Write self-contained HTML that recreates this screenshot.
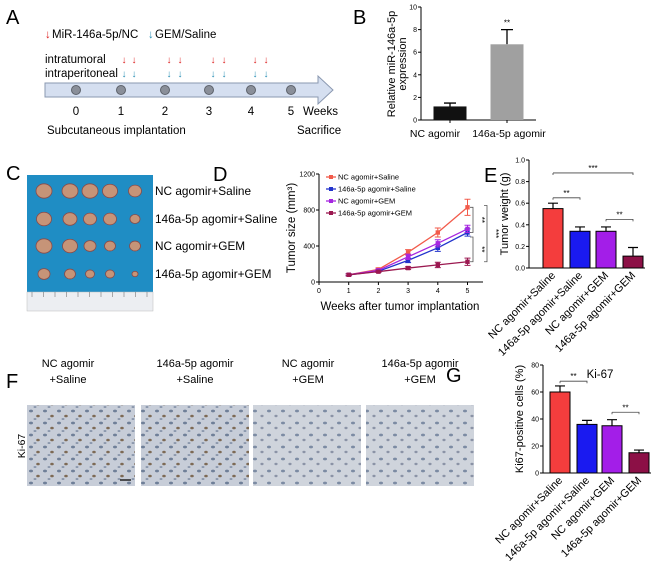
<!DOCTYPE html>
<html><head><meta charset="utf-8"><style>
html,body{margin:0;padding:0;background:#fff;}
svg{display:block;font-family:"Liberation Sans",Arial,sans-serif;}
</style></head><body>
<svg id="fig" width="656" height="563" viewBox="0 0 656 563" xmlns="http://www.w3.org/2000/svg">
<defs>
<pattern id="histo" width="14" height="12" patternUnits="userSpaceOnUse">
<rect width="14" height="12" fill="#c7cdd8"/>
<ellipse cx="3" cy="3" rx="2" ry="1.4" fill="#6f7f98"/>
<ellipse cx="10" cy="8" rx="1.8" ry="1.3" fill="#7d6a55"/>
<ellipse cx="7" cy="11" rx="1.5" ry="1" fill="#8a97ac"/>
</pattern>
<pattern id="histo2" width="14" height="12" patternUnits="userSpaceOnUse">
<rect width="14" height="12" fill="#cfd4dc"/>
<ellipse cx="3" cy="3" rx="2" ry="1.4" fill="#7c8ba3"/>
<ellipse cx="10" cy="8" rx="1.6" ry="1.2" fill="#8b93a6"/>
</pattern>
</defs>

<!-- Panel A -->
<g>
<text x="6" y="24" font-size="20">A</text>
<text x="45" y="38" font-size="11.5" fill="#d22">↓</text>
<text x="52" y="38" font-size="11.5">MiR-146a-5p/NC</text>
<text x="148" y="38" font-size="11.5" fill="#2a8fb5">↓</text>
<text x="155" y="38" font-size="11.5">GEM/Saline</text>
<text x="45" y="63" font-size="11.5">intratumoral</text>
<text x="45" y="77" font-size="11.5">intraperitoneal</text>
<g id="arrowsA"></g>
<polygon points="45,83 318,83 318,76 333,90 318,104 318,97 45,97" fill="#d5dff0" stroke="#8a98b0" stroke-width="1"/>
<g id="dotsA"></g>
<text x="303" y="115" font-size="11.5">Weeks</text>
<text x="47" y="134" font-size="11.5">Subcutaneous implantation</text>
<text x="297" y="134" font-size="11.5">Sacrifice</text>
</g>

<!-- Panel B -->
<g id="panelB">
<text x="353" y="24" font-size="20">B</text>
</g>

<!-- Panel C -->
<g>
<text x="6" y="180" font-size="20">C</text>
<rect x="27" y="175" width="126" height="117" fill="#1f8dc4"/>
<rect x="27" y="292" width="126" height="19" fill="#eceef2" stroke="#bbb" stroke-width="0.5"/>
<g id="tumors"></g>
<text x="155" y="195" font-size="11.8">NC agomir+Saline</text>
<text x="155" y="223" font-size="11.8">146a-5p agomir+Saline</text>
<text x="155" y="250" font-size="11.8">NC agomir+GEM</text>
<text x="155" y="278" font-size="11.8">146a-5p agomir+GEM</text>
</g>

<!-- Panel D -->
<g id="panelD">
<text x="213" y="181" font-size="20">D</text>
</g>

<!-- Panel E -->
<g id="panelE">
<text x="484" y="182" font-size="20">E</text>
</g>

<!-- Panel F -->
<g id="panelF">
<text x="6" y="388" font-size="20">F</text>
<text transform="translate(25,446) rotate(-90)" font-size="10.5" text-anchor="middle">Ki-67</text>
</g>

<!-- Panel G -->
<g id="panelG">
<text x="446" y="382" font-size="20">G</text>
<text x="600" y="378" font-size="11.5" text-anchor="middle">Ki-67</text>
</g>
</svg>

<script>
const NS="http://www.w3.org/2000/svg";
function mk(parent,tag,attrs,text){const e=document.createElementNS(NS,tag);for(const k in attrs)e.setAttribute(k,attrs[k]);if(text!==undefined)e.textContent=text;parent.appendChild(e);return e;}

// ---- Panel A timeline ----
const weekLabels=["0","1","2","3","4","5"];
const weekX=[76,121,165,209,251,291];
const dotsA=document.getElementById('dotsA');
weekLabels.forEach((w,i)=>{
  const c=mk(dotsA,'circle',{cx:weekX[i],cy:90,r:4.5,fill:'#8a8f99',stroke:'#5d626b','stroke-width':1});
  
  
  const t=mk(dotsA,'text',{x:weekX[i],y:115,'font-size':11.5,'text-anchor':'middle'},w);
  
  
});
const arrowsA=document.getElementById('arrowsA');
const doseX=[124,134,169,180,213,224,255,266];
doseX.forEach(x=>{
  const r=mk(arrowsA,'text',{x:x,y:63,'font-size':10,fill:'#d22','text-anchor':'middle'},'↓');
  
  
  const b=mk(arrowsA,'text',{x:x,y:77,'font-size':10,fill:'#2a8fb5','text-anchor':'middle'},'↓');
  
  
});

// ---- Panel B ----
const bCats=["NC agomir","146a-5p agomir"];
const bVals=[1.2,6.7];
const bErr=[0.3,1.3];
const bTicks=[0,2,4,6,8,10];
(function(){
  const g=document.getElementById('panelB');
  const x0=421,y0=120,yTop=7,ymax=10;
  const ys=v=>y0-(v/ymax)*(y0-yTop);
  const centers=[450,507],labelX=[435,509],bw=33,cols=["#111","#a0a0a0"];
  const ax=mk(g,'path',{d:`M${x0},${yTop}V${y0}H536`,stroke:'#000',fill:'none','stroke-width':1});
  
  bTicks.forEach(t=>{
    mk(g,'line',{x1:x0-3,x2:x0,y1:ys(t),y2:ys(t),stroke:'#000'});
    const l=mk(g,'text',{x:x0-4,y:ys(t)+2.5,'font-size':7,'text-anchor':'end'},String(t));
    
  });
  bVals.forEach((v,i)=>{
    const cx=centers[i];
    mk(g,'path',{d:`M${cx},${ys(v)}V${ys(v+bErr[i])}M${cx-6},${ys(v+bErr[i])}H${cx+6}`,stroke:'#000','stroke-width':1.3,fill:'none'});
    const r=mk(g,'rect',{x:cx-bw/2,y:ys(v),width:bw,height:y0-ys(v),fill:cols[i]});
    
    mk(g,'line',{x1:cx,x2:cx,y1:y0,y2:y0+3,stroke:'#000'});
    const l=mk(g,'text',{x:labelX[i],y:137,'font-size':10.5,'text-anchor':'middle'},bCats[i]);
    
  });
  const s=mk(g,'text',{x:centers[1],y:ys(bVals[1]+bErr[1])-4,'font-size':8,'text-anchor':'middle'},'**');
  
  const yl=mk(g,'text',{transform:'translate(395,64) rotate(-90)','font-size':11,'text-anchor':'middle'},'Relative miR-146a-5p');
  
  const yl2=mk(g,'text',{transform:'translate(406,64) rotate(-90)','font-size':11,'text-anchor':'middle'},'expression');
  
})();

// ---- Panel C tumors ----
const tumorSizes=[[8,8,8,7.5,6.5],[7.5,7,6.5,6.5,5],[8,7.5,6,5.5,5.5],[6,5.5,4.5,4.5,3]];
(function(){
  const g=document.getElementById('tumors');
  const xs=[44,70,90,110,135],ys=[191,219,246,274];
  tumorSizes.forEach((row,r)=>row.forEach((s,c)=>{
    const e=mk(g,'ellipse',{cx:xs[c],cy:ys[r],rx:s,ry:s*0.9,fill:'#c69478',stroke:'#8a4a48','stroke-width':0.8});
    
  }));
  for(let i=0;i<=10;i++){mk(g,'line',{x1:32+i*11.5,x2:32+i*11.5,y1:292,y2:297,stroke:'#777','stroke-width':0.6});}
})();

// ---- Panel D line chart ----
const dWeeks=[1,2,3,4,5];
const dSeriesNames=["NC agomir+Saline","146a-5p agomir+Saline","NC agomir+GEM","146a-5p agomir+GEM"];
const dNcSaline=[80,140,330,550,830];
const dMirSaline=[80,120,240,380,550];
const dNcGem=[80,130,280,430,590];
const dMirGem=[80,115,155,190,225];
const dErrNcSaline=[10,15,30,50,90];
const dErrMirSaline=[10,12,25,40,40];
const dErrNcGem=[10,12,30,40,40];
const dErrMirGem=[10,10,15,30,40];
const dYTicks=[0,400,800,1200];
const dXTicks=[0,1,2,3,4,5];
(function(){
  const g=document.getElementById('panelD');
  const x0=319,y0=282,yTop=174;
  const xs=w=>x0+w*29.7, ys=v=>y0-v/1200*(y0-yTop);
  const ax=mk(g,'path',{d:`M${x0},${yTop}V${y0}H483`,stroke:'#000',fill:'none'});
  
  dYTicks.forEach(t=>{mk(g,'line',{x1:x0-3,x2:x0,y1:ys(t),y2:ys(t),stroke:'#000'});
    const l=mk(g,'text',{x:x0-4,y:ys(t)+2.5,'font-size':7,'text-anchor':'end'},String(t));
    });
  dXTicks.forEach(t=>{mk(g,'line',{x1:xs(t),x2:xs(t),y1:y0,y2:y0+3,stroke:'#000'});
    const l=mk(g,'text',{x:xs(t),y:y0+11,'font-size':7,'text-anchor':'middle'},String(t));
    });
  const xt=mk(g,'text',{x:400,y:310,'font-size':11.5,'text-anchor':'middle'},'Weeks after tumor implantation');
  
  const yt=mk(g,'text',{transform:'translate(295,228) rotate(-90)','font-size':11.5,'text-anchor':'middle'},'Tumor size (mm³)');
  
  const series=[dNcSaline,dMirSaline,dNcGem,dMirGem];
  const errs=[dErrNcSaline,dErrMirSaline,dErrNcGem,dErrMirGem];
  const cols=["#f25a4a","#2233cc","#a626e0","#9b1850"];
  series.forEach((s,k)=>{
    const pts=s.map((v,i)=>xs(dWeeks[i])+','+ys(v)).join(' ');
    const pl=mk(g,'polyline',{points:pts,fill:'none',stroke:cols[k],'stroke-width':1.3});
    
    s.forEach((v,i)=>{const x=xs(dWeeks[i]);const e=errs[k][i];
      mk(g,'path',{d:`M${x},${ys(v-e)}V${ys(v+e)}M${x-3},${ys(v-e)}H${x+3}M${x-3},${ys(v+e)}H${x+3}`,stroke:cols[k],fill:'none'});
      const p=mk(g,'rect',{x:x-2.2,y:ys(v)-2.2,width:4.4,height:4.4,fill:cols[k]});
      });
    const ly=177+k*12;
    mk(g,'line',{x1:326,x2:336,y1:ly,y2:ly,stroke:cols[k],'stroke-width':1.3});
    mk(g,'rect',{x:329,y:ly-2,width:4,height:4,fill:cols[k]});
    const lt=mk(g,'text',{x:338,y:ly+2.5,'font-size':7.5},dSeriesNames[k]);
    
  });
  const br=(x,a,b,lbl)=>{mk(g,'path',{d:`M${x-3},${ys(a)}H${x}V${ys(b)}H${x-3}`,stroke:'#555',fill:'none','stroke-width':0.8});
    const t=mk(g,'text',{transform:`translate(${x+6},${(ys(a)+ys(b))/2}) rotate(90)`,'font-size':8,'text-anchor':'middle'},lbl);
    };
  br(473,dNcSaline[4],dMirSaline[4],'**');
  br(473,dMirSaline[4]-50,dMirGem[4],'**');
  br(487,dNcSaline[4]+20,dMirGem[4],'***');
})();

// ---- Bar chart helper for E and G ----
const groupNames=["NC agomir+Saline","146a-5p agomir+Saline","NC agomir+GEM","146a-5p agomir+GEM"];
const barColors=["#f43d3d","#1a1af0","#a31ee8","#8c1046"];
const eVals=[0.55,0.34,0.34,0.11];
const eErr=[0.05,0.04,0.04,0.08];
const eTicks=[0,0.2,0.4,0.6,0.8,1.0];
const gVals=[60,36,35,15];
const gErr=[4.5,3,4.5,2];
const gTicks=[0,20,40,60,80];
function barChart(g,o,vals,errs,ticks,pref){
  const ys=v=>o.y0-v/o.max*(o.y0-o.yTop);
  const ax=mk(g,'path',{d:`M${o.x0},${o.yTop}V${o.y0}H${o.xEnd}`,stroke:'#000',fill:'none'});
  
  ticks.forEach(t=>{mk(g,'line',{x1:o.x0-3,x2:o.x0,y1:ys(t),y2:ys(t),stroke:'#000'});
    const l=mk(g,'text',{x:o.x0-4,y:ys(t)+2.5,'font-size':7,'text-anchor':'end'},o.fmt(t));
    });
  vals.forEach((v,i)=>{const cx=o.cx[i];
    mk(g,'path',{d:`M${cx},${ys(v)}V${ys(v+errs[i])}M${cx-5},${ys(v+errs[i])}H${cx+5}`,stroke:'#000','stroke-width':1.2,fill:'none'});
    const r=mk(g,'rect',{x:cx-o.bw/2,y:ys(v),width:o.bw,height:o.y0-ys(v),fill:barColors[i],stroke:'#000','stroke-width':1});
    
    const l=mk(g,'text',{transform:`translate(${cx+3},${o.y0+8}) rotate(-45)`,'font-size':11,'text-anchor':'end'},groupNames[i]);
    });
  const yt=mk(g,'text',{transform:`translate(${o.ytx},${(o.y0+o.yTop)/2}) rotate(-90)`,'font-size':11,'text-anchor':'middle'},o.ytitle);
  
  (o.sig||[]).forEach(s=>{const y=ys(s[2]);
    mk(g,'path',{d:`M${o.cx[s[0]]},${y}H${o.cx[s[1]]}V${y+2}M${o.cx[s[0]]},${y}V${y+2}`,stroke:'#444',fill:'none','stroke-width':0.8});
    const t=mk(g,'text',{x:(o.cx[s[0]]+o.cx[s[1]])/2,y:y-2,'font-size':8,'text-anchor':'middle'},s[3]);
    });
}
barChart(document.getElementById('panelE'),{x0:529,y0:268,yTop:160,max:1.0,xEnd:645,cx:[553,580,606,633],bw:20,
  fmt:t=>t.toFixed(1),ytitle:'Tumor weight (g)',ytx:508,sig:[[0,3,0.88,'***'],[0,1,0.65,'**'],[2,3,0.45,'**']]},eVals,eErr,eTicks,'e');
barChart(document.getElementById('panelG'),{x0:543,y0:473,yTop:365,max:80,xEnd:651,cx:[560,587,612,639],bw:20,
  fmt:t=>String(t),ytitle:'Ki67-positive cells (%)',ytx:523,sig:[[0,1,68,'**'],[2,3,45,'**']]},gVals,gErr,gTicks,'g');

// ---- Panel F histology ----
(function(){
  const g=document.getElementById('panelF');
  const tops=["NC agomir","146a-5p agomir","NC agomir","146a-5p agomir"];
  const bots=["+Saline","+Saline","+GEM","+GEM"];
  const xs=[27,141,253,366],cx=[68,195,308,420];
  xs.forEach((x,i)=>{
    const t1=mk(g,'text',{x:cx[i],y:367,'font-size':11,'text-anchor':'middle'},tops[i]);
    
    const t2=mk(g,'text',{x:cx[i],y:383,'font-size':11,'text-anchor':'middle'},bots[i]);
    
    const r=mk(g,'rect',{x:x,y:405,width:108,height:81,fill:i<2?'url(#histo)':'url(#histo2)'});
    
  });
  mk(g,'line',{x1:120,x2:131,y1:480,y2:480,stroke:'#222','stroke-width':1.5});
})();
</script>
</body></html>
